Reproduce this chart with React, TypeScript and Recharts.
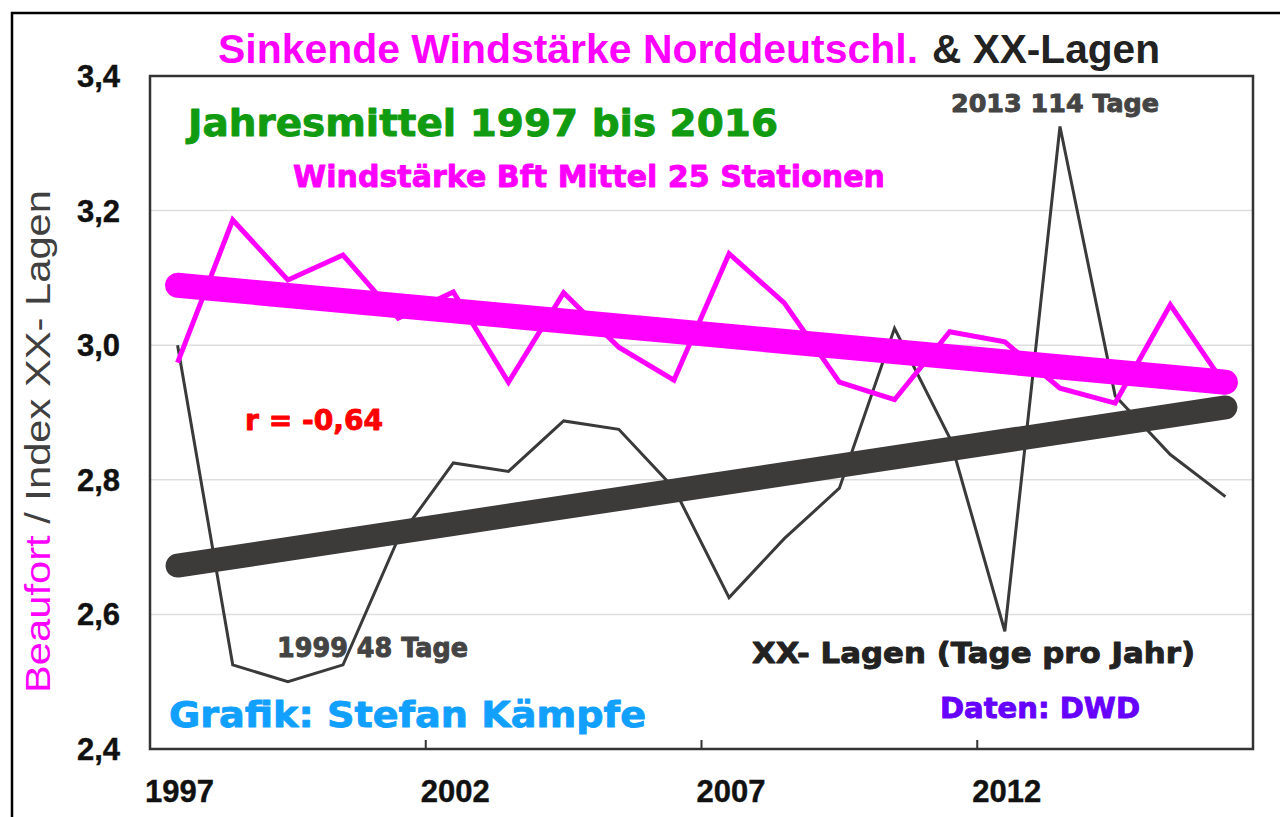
import React from 'react';
import { LineChart, Line, XAxis, YAxis, CartesianGrid, ReferenceArea } from 'recharts';

const years = [1997, 1998, 1999, 2000, 2001, 2002, 2003, 2004, 2005, 2006, 2007, 2008, 2009, 2010, 2011, 2012, 2013, 2014, 2015, 2016];
const windBft = [2.974, 3.186, 3.097, 3.134, 3.04, 3.079, 2.945, 3.078, 2.997, 2.948, 3.136, 3.063, 2.945, 2.919, 3.02, 3.005, 2.936, 2.914, 3.06, 2.94];
const xxDays = [88, 50, 48, 50, 65, 74, 73, 79, 78, 71, 58, 65, 71, 90, 77, 54, 114, 82, 75, 70];
const trendYears = [1997, 2016];
const windTrend = [3.089, 2.945];
const xxTrend = [61.8, 80.6];
const yTicks = [2.4, 2.6, 2.8, 3.0, 3.2, 3.4];
const xLabelYears = [1997, 2002, 2007, 2012];

const W = 1280;
const H = 817;
const xAxisHeight = 30;
const margin = { top: 76, right: 27, bottom: 38, left: 0 };
const yAxisWidth = 150;
const plotW = W - margin.left - margin.right - yAxisWidth;
const halfBand = plotW / years.length / 2;

const rows = years.map((year, i) => {
  const ti = trendYears.indexOf(year);
  return {
    year,
    wind: windBft[i],
    xx: xxDays[i],
    windTrend: ti >= 0 ? windTrend[ti] : null,
    xxTrend: ti >= 0 ? xxTrend[ti] : null,
  };
});

const XTick = (props: any) => {
  const { x, y, payload } = props;
  return (
    <g>
      {payload.value !== years[0] && (
        <line x1={x - halfBand} x2={x - halfBand} y1={y - 9} y2={y} stroke="#333" strokeWidth={2} />
      )}
      <text x={x + 2} y={y + 53} textAnchor="middle" fontFamily="Liberation Sans" fontWeight="bold" fontSize={31} fill="#111" stroke="#111" strokeWidth={0.4}>
        {payload.value}
      </text>
    </g>
  );
};

const heavy = 'DejaVu Sans';

const Heavy = ({ x, y, size, color, len, children }: any) => (
  <text
    x={x}
    y={y}
    fontFamily={heavy}
    fontWeight="bold"
    fontSize={size}
    fill={color}
    stroke={color}
    strokeWidth={0.9}
    strokeLinejoin="round"
    textLength={len}
    lengthAdjust="spacingAndGlyphs"
  >
    {children}
  </text>
);

export default function App() {
  return (
    <div style={{ position: 'absolute', left: 0, top: 0, width: W, height: H, background: '#fff', overflow: 'hidden' }}>
      <LineChart width={W} height={H} data={rows} margin={margin}>
        <CartesianGrid vertical={false} stroke="#dedede" strokeWidth={1.5} />
        <XAxis
          dataKey="year"
          type="number"
          height={xAxisHeight}
          domain={[years[0] - 0.5, years[years.length - 1] + 0.5]}
          ticks={xLabelYears}
          interval={0}
          tick={<XTick />}
          tickLine={false}
          axisLine={false}
          tickSize={0}
          tickMargin={0}
        />
        <YAxis
          domain={[2.4, 3.4]}
          ticks={yTicks}
          width={yAxisWidth}
          tickSize={0}
          tickMargin={30}
          axisLine={false}
          tickLine={false}
          tickFormatter={(v: number) => v.toFixed(1).replace('.', ',')}
          tick={{ fontFamily: 'Liberation Sans', fontWeight: 'bold', fontSize: 31, fill: '#111', stroke: '#111', strokeWidth: 0.4 }}
        />
        <YAxis yAxisId="days" orientation="right" domain={[40, 120]} hide />
        <ReferenceArea
          x1={years[0] - 0.5}
          x2={years[years.length - 1] + 0.5}
          y1={2.4}
          y2={3.4}
          fill="none"
          stroke="#333"
          strokeWidth={2.5}
        />
        <Line yAxisId="days" dataKey="xx" stroke="#3a3a3a" strokeWidth={3} dot={false} isAnimationActive={false} />
        <Line yAxisId="days" dataKey="xxTrend" stroke="#3d3a3a" strokeWidth={24} strokeLinecap="round" dot={false} connectNulls isAnimationActive={false} />
        <Line dataKey="wind" stroke="#ff00ff" strokeWidth={5} dot={false} isAnimationActive={false} />
        <Line dataKey="windTrend" stroke="#ff00ff" strokeWidth={25} strokeLinecap="round" dot={false} connectNulls isAnimationActive={false} />
      </LineChart>
      <svg width={W} height={H} style={{ position: 'absolute', left: 0, top: 0, pointerEvents: 'none' }}>
        <rect x={12} y={13} width={W + 20} height={H + 20} fill="none" stroke="#000" strokeWidth={2.5} />
        <text x={218} y={63} fontFamily="Liberation Sans" fontWeight="bold" fontSize={40} fill="#ff00ff" textLength={700} lengthAdjust="spacingAndGlyphs">
          Sinkende Windstärke Norddeutschl.
        </text>
        <text x={932} y={63} fontFamily="Liberation Sans" fontWeight="bold" fontSize={40} fill="#222" textLength={228} lengthAdjust="spacingAndGlyphs">
          &amp; XX-Lagen
        </text>
        <Heavy x={188} y={136} size={38} color="#119b11" len={590}>Jahresmittel 1997 bis 2016</Heavy>
        <Heavy x={293} y={187} size={31} color="#ff00ff" len={592}>Windstärke Bft Mittel 25 Stationen</Heavy>
        <Heavy x={245} y={430} size={28} color="#ff0000" len={138}>r = -0,64</Heavy>
        <Heavy x={951} y={112} size={24} color="#444" len={208}>2013 114 Tage</Heavy>
        <Heavy x={277} y={657} size={26} color="#444" len={191}>1999 48 Tage</Heavy>
        <Heavy x={752} y={663} size={28} color="#222" len={443}>XX- Lagen (Tage pro Jahr)</Heavy>
        <Heavy x={940} y={718} size={28} color="#6600ff" len={200}>Daten: DWD</Heavy>
        <Heavy x={169} y={727} size={36} color="#12a0ff" len={477}>Grafik: Stefan Kämpfe</Heavy>
        <text transform="translate(50,693) rotate(-90)" x={0} y={0} fontFamily="Liberation Sans" fontSize={35} textLength={503} lengthAdjust="spacingAndGlyphs">
          <tspan fill="#ff00ff">Beaufort</tspan>
          <tspan fill="#404040"> / Index XX- Lagen</tspan>
        </text>
      </svg>
    </div>
  );
}
